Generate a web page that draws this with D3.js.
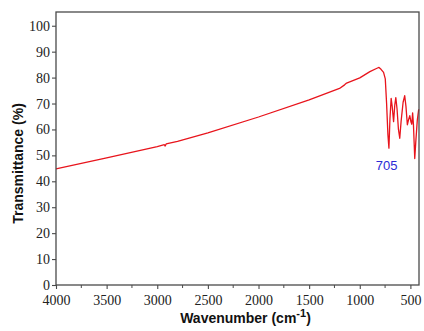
<!DOCTYPE html>
<html>
<head>
<meta charset="utf-8">
<script src="https://cdn.jsdelivr.net/npm/d3@7"></script>
<style>
  body { margin: 0; background: #fff; }
  svg { display: block; }
</style>
</head>
<body>
<div id="chart"></div>
<script>
// IR spectrum values
const wavenumbers = [4000, 3500, 3000, 2930, 2922, 2912, 2800, 2500, 2000, 1500, 1200, 1150, 1130, 1000, 900, 830, 810, 790, 765, 748, 735, 722, 712,
  702, 690, 680, 666, 654, 644, 632, 618, 605, 592, 572, 556, 544, 530, 518, 506, 495, 486, 478, 470, 457, 447, 432, 418];
const transmittance = [44.8, 49.0, 53.4, 54.1, 53.6, 54.4, 55.4, 58.7, 64.8, 71.4, 75.8, 77.2, 77.9, 79.9, 82.3, 83.6, 83.9, 83.2, 82.0, 79.5, 70, 58, 52.8,
  64, 72, 69, 63, 69.5, 72.3, 68, 60, 56.6, 63, 70.5, 73, 69, 61.8, 63.8, 65.3, 63, 62, 66.4, 62, 48.8, 55, 63.5, 67.8];
const xTicks = [4000, 3500, 3000, 2500, 2000, 1500, 1000, 500];
const yTicks = [0, 10, 20, 30, 40, 50, 60, 70, 80, 90, 100];
const peakLabel = { wn: 705, text: "705" };

const width = 424, height = 331;
const margin = { left: 56, right: 5, top: 12, bottom: 46 };
const serif = "'Liberation Serif', 'Times New Roman', 'DejaVu Serif', serif";

const svg = d3.select("#chart").append("svg")
  .attr("width", width)
  .attr("height", height);

const x = d3.scaleLinear().domain([4000, 415]).range([margin.left, width - margin.right]);
const y = d3.scaleLinear().domain([0, 105.3]).range([height - margin.bottom, margin.top]);

const spectrum = d3.zip(wavenumbers, transmittance);

// curve
svg.append("path")
  .datum(spectrum)
  .attr("fill", "none")
  .attr("stroke", "#e8141c")
  .attr("stroke-width", 1.3)
  .attr("stroke-linejoin", "round")
  .attr("d", d3.line().x(d => x(d[0])).y(d => y(d[1])));

// frame
svg.append("rect")
  .attr("x", x.range()[0])
  .attr("y", y.range()[1])
  .attr("width", x.range()[1] - x.range()[0])
  .attr("height", y.range()[0] - y.range()[1])
  .attr("fill", "none")
  .attr("stroke", "#4a4a4a")
  .attr("stroke-width", 1.3);

// axes
const xAxis = d3.axisBottom(x).tickValues(xTicks).tickSize(4).tickSizeOuter(0).tickFormat(d3.format("d"));
const gx = svg.append("g")
  .attr("transform", `translate(0,${y.range()[0]})`)
  .call(xAxis);
// minor ticks
gx.selectAll(".minor")
  .data(d3.range(3750, 400, -500))
  .enter().append("line")
  .attr("x1", d => x(d)).attr("x2", d => x(d))
  .attr("y1", 0).attr("y2", 3)
  .attr("stroke", "#4a4a4a");

const yAxis = d3.axisLeft(y).tickValues(yTicks).tickSize(4).tickSizeOuter(0);
const gy = svg.append("g")
  .attr("transform", `translate(${x.range()[0]},0)`)
  .call(yAxis);

[gx, gy].forEach(g => {
  g.attr("font-family", serif).attr("font-size", 14);
  g.select(".domain").remove();
  g.selectAll(".tick line").attr("stroke", "#4a4a4a").attr("stroke-width", 1.1);
  g.selectAll("text")
    .style("font-family", serif)
    .style("font-size", "14px")
    .attr("fill", "#222");
});
gx.selectAll(".tick text").attr("dy", "0.9em");
gy.selectAll(".tick text").attr("x", -6);

// peak label
svg.append("text")
  .attr("x", x(peakLabel.wn) - 3)
  .attr("y", y(52.8) + 22)
  .attr("text-anchor", "middle")
  .attr("font-family", "'Liberation Sans', Arial, sans-serif")
  .attr("font-size", 13)
  .attr("fill", "#2b2bd6")
  .text(peakLabel.text);

// axis titles
const xTitle = svg.append("text")
  .attr("x", (x.range()[0] + x.range()[1]) / 2 + 8)
  .attr("y", 323)
  .attr("text-anchor", "middle")
  .attr("font-family", "'Liberation Sans', Arial, sans-serif")
  .attr("font-weight", "bold")
  .attr("font-size", 14)
  .attr("fill", "#111");
xTitle.append("tspan").text("Wavenumber (cm");
xTitle.append("tspan").attr("dy", -6).attr("font-size", 11).text("-1");
xTitle.append("tspan").attr("dy", 6).text(")");

svg.append("text")
  .attr("transform", `translate(23,${(y.range()[0] + y.range()[1]) / 2 + 15}) rotate(-90)`)
  .attr("text-anchor", "middle")
  .attr("font-family", "'Liberation Sans', Arial, sans-serif")
  .attr("font-weight", "bold")
  .attr("font-size", 14)
  .attr("fill", "#111")
  .text("Transmittance (%)");
</script>
</body>
</html>
